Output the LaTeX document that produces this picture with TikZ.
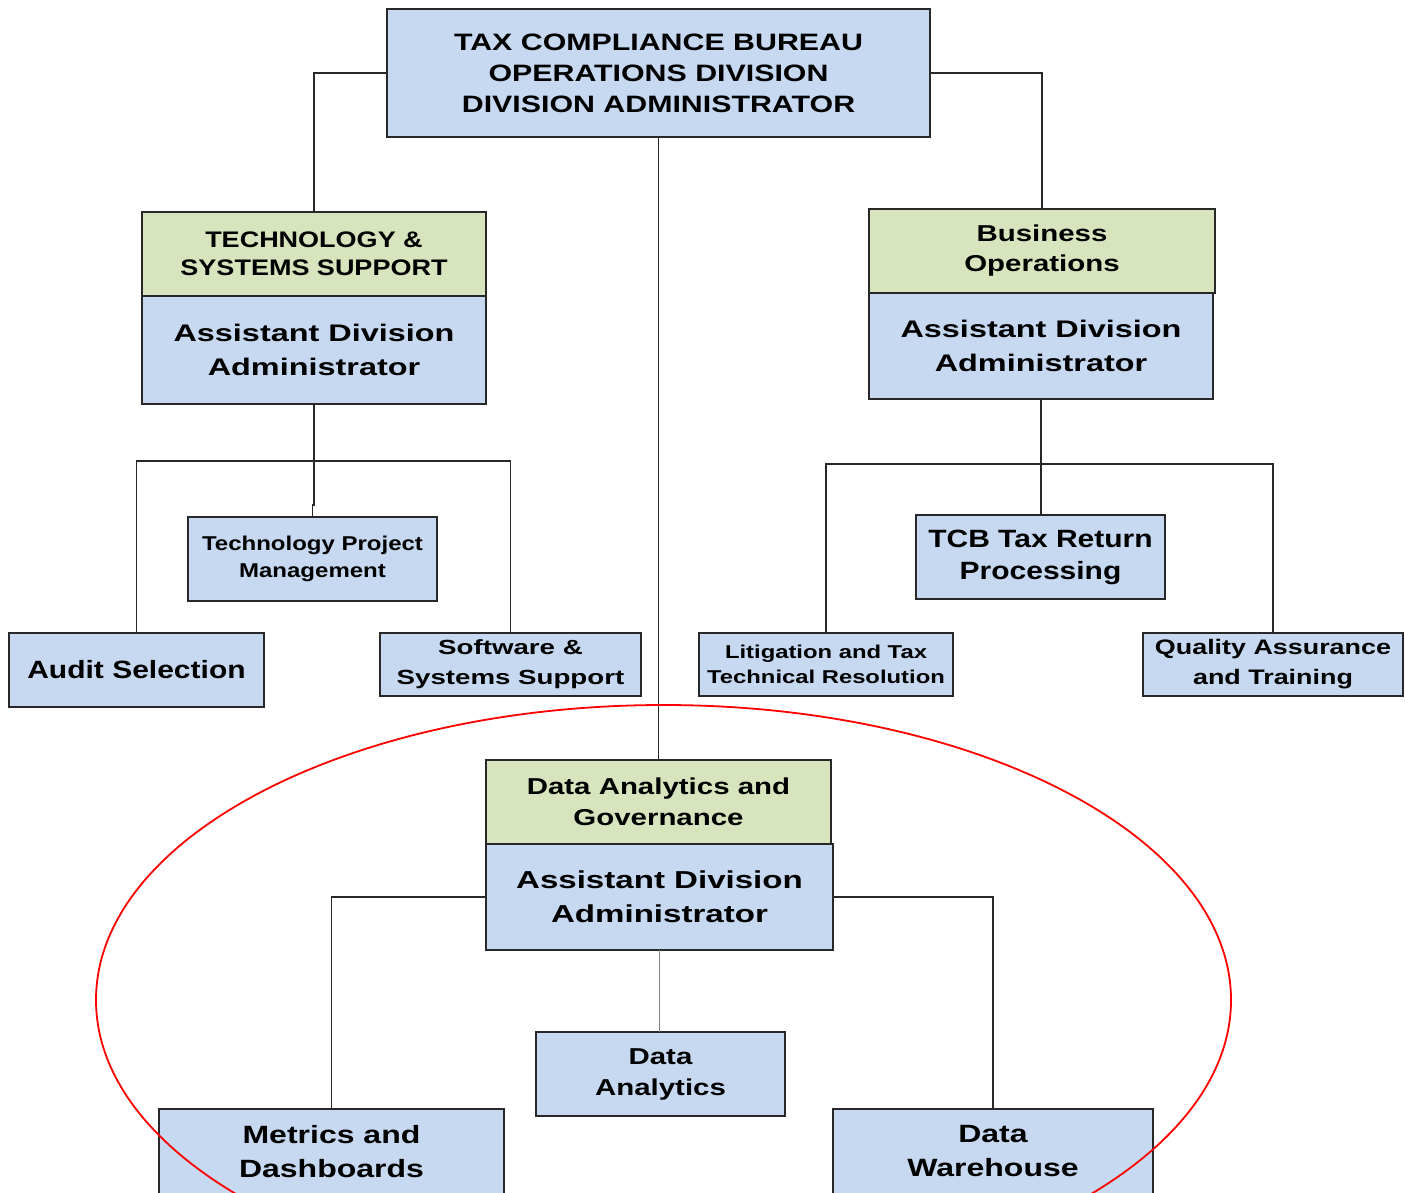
\documentclass[tikz,border=0pt]{standalone}
\usepackage{fontspec}
\newfontfamily\fa{Liberation Sans}[FakeStretch=1.20]
\newfontfamily\fb{Liberation Sans}[FakeStretch=1.28]
\newfontfamily\fc{Liberation Sans}[FakeStretch=1.35]
\definecolor{boxblue}{RGB}{198,217,241}
\definecolor{boxgreen}{RGB}{215,228,189}
\definecolor{edgecol}{RGB}{40,40,40}
\definecolor{lightline}{RGB}{130,130,130}
\begin{document}
\begin{tikzpicture}[x=1pt,y=-1pt,
  box/.style={draw=edgecol, line width=1.5pt, inner sep=0pt, outer sep=0pt, align=center, text=black},
  bluebox/.style={box, fill=boxblue},
  greenbox/.style={box, fill=boxgreen},
  link/.style={draw=edgecol, line width=1.4pt},
  faintlink/.style={draw=lightline, line width=1.4pt},
  oval/.style={draw=red, line width=1.8pt}]
\useasboundingbox (0,0) rectangle (1405,1192);
\clip (0,0) rectangle (1405,1192);
\fill[white] (0,0) rectangle (1405,1192);

% boxes
\node[bluebox, minimum width=543, minimum height=128, font={\fb\bfseries\fontsize{23.7}{31}\selectfont}] (top) at (658.5,73)
  {TAX COMPLIANCE BUREAU\\OPERATIONS DIVISION\\DIVISION ADMINISTRATOR};

\node[greenbox, minimum width=344, minimum height=84, font={\fa\bfseries\fontsize{22.5}{28}\selectfont}] (tssG) at (314,254)
  {TECHNOLOGY \&\\SYSTEMS SUPPORT};
\node[bluebox, minimum width=344, minimum height=108, font={\fc\bfseries\fontsize{24}{34}\selectfont}] (tssB) at (314,350)
  {Assistant Division\\Administrator};

\node[greenbox, minimum width=346, minimum height=84, font={\fb\bfseries\fontsize{23}{30}\selectfont}] (boG) at (1042,251)
  {Business\\Operations};
\node[bluebox, minimum width=344, minimum height=106, font={\fc\bfseries\fontsize{24}{34}\selectfont}] (boB) at (1041,346)
  {Assistant Division\\Administrator};

\node[bluebox, minimum width=249, minimum height=84, font={\fa\bfseries\fontsize{20}{27}\selectfont}] (tpm) at (312.5,559)
  {Technology Project\\Management};
\node[bluebox, minimum width=255, minimum height=74, font={\fa\bfseries\fontsize{25}{30}\selectfont}] (audit) at (136.5,670)
  {Audit Selection};
\node[bluebox, minimum width=261, minimum height=63, font={\fc\bfseries\fontsize{20.5}{30}\selectfont}] (soft) at (510.5,664.5)
  {Software \&\\Systems Support};

\node[bluebox, minimum width=249, minimum height=84, font={\fa\bfseries\fontsize{25}{32}\selectfont}] (tcb) at (1040.5,557)
  {TCB Tax Return\\Processing};
\node[bluebox, minimum width=254, minimum height=63, font={\fb\bfseries\fontsize{18.6}{25}\selectfont}] (lit) at (826,664.5)
  {Litigation and Tax\\Technical Resolution};
\node[bluebox, minimum width=260, minimum height=63, font={\fb\bfseries\fontsize{21}{30}\selectfont}] (qa) at (1273,664.5)
  {Quality Assurance\\and Training};

\node[greenbox, minimum width=345, minimum height=84, font={\fb\bfseries\fontsize{23}{31}\selectfont}] (dagG) at (658.5,802)
  {Data Analytics and\\Governance};
\node[bluebox, minimum width=347, minimum height=106, font={\fc\bfseries\fontsize{24.5}{34}\selectfont}] (dagB) at (659.5,897)
  {Assistant Division\\Administrator};

\node[bluebox, minimum width=249, minimum height=84, font={\fb\bfseries\fontsize{23}{31}\selectfont}] (da) at (660.5,1074)
  {Data\\Analytics};
\node[bluebox, minimum width=345, minimum height=85, font={\fb\bfseries\fontsize{25}{34}\selectfont}] (met) at (331.5,1151.5)
  {Metrics and\\Dashboards};
\node[bluebox, minimum width=320, minimum height=85, font={\fb\bfseries\fontsize{25}{34}\selectfont}] (dw) at (993,1151.5)
  {Data\\Warehouse};

% junction points
\coordinate (tj) at (314,461);
\coordinate (tk) at (314,505);
\coordinate (bj) at (1041,464);

% connectors
\path[link] (top.west) -| (tssG.north);
\path[link] (top.east) -| (boG.north);
\path[link] (top.south) -- (dagG.north);
\path[link] (tssB.south) -- (tk) -| (tpm.north);
\path[link] (audit.north) |- (tj) -| (soft.north);
\path[link] (boB.south) -- (bj) -- (bj |- tcb.north);
\path[link] (lit.north) |- (bj) -| (qa.north);
\path[link] (dagB.west) -| (met.north);
\path[link] (dagB.east) -| (dw.north);
\path[faintlink] (dagB.south) -- (dagB.south |- da.north);

% highlight ellipse
\draw[oval] (663.5,1000) ellipse [x radius=567.5, y radius=295];
\end{tikzpicture}
\end{document}
